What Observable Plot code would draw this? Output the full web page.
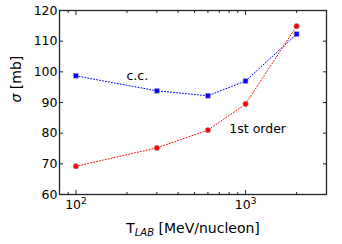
<!DOCTYPE html>
<html><head><meta charset="utf-8">
<script src="https://cdn.jsdelivr.net/npm/d3@7"></script>
<script src="https://cdn.jsdelivr.net/npm/@observablehq/plot@0.6"></script>
<style>body{margin:0;background:#fff} svg{font-family:"DejaVu Sans"}</style>
</head><body><div id="chart"></div>
<script>
const energies = [100, 300, 600, 1000, 2000];
const ccValues = [98.7, 93.8, 92.2, 97.0, 112.3];
const firstOrderValues = [69.2, 75.2, 81.0, 89.5, 114.9];
const yTicks = [60, 70, 80, 90, 100, 110, 120];
const xMajorTicks = [100, 1000];
const xMinorTicks = [90, 200, 300, 400, 500, 600, 700, 800, 900, 2000, 3000];
const xTickLabels = {100: "10^2", 1000: "10^3"};
const seriesNames = ["c.c.", "1st order"];
const yLabel = "σ [mb]";
const xLabel = "T_LAB [MeV/nucleon]";

const ccData = energies.map((e, i) => ({energy: e, value: ccValues[i]}));
const foData = energies.map((e, i) => ({energy: e, value: firstOrderValues[i]}));

const chart = Plot.plot({
  width: 342, height: 244,
  marginLeft: 59, marginRight: 16, marginTop: 10, marginBottom: 50,
  x: {type: "log", domain: [80, 3000]},
  y: {domain: [60, 120]},
  style: {fontFamily: "DejaVu Sans", fontSize: "12px", color: "black", background: "white"},
  marks: [
    Plot.axisY(yTicks, {anchor: "left", tickSize: -4, fill: "none", stroke: "#222", label: null}),
    Plot.axisY(yTicks, {anchor: "right", tickSize: -4, fill: "none", stroke: "#222", label: null}),
    Plot.axisY(yTicks, {anchor: "left", tickSize: 0, tickPadding: 2, fontSize: 12.5, fill: "black", label: null}),
    Plot.axisX(xMajorTicks, {anchor: "bottom", tickSize: -4, fill: "none", stroke: "#222", label: null}),
    Plot.axisX(xMajorTicks, {anchor: "top", tickSize: -4, fill: "none", stroke: "#222", label: null}),
    Plot.axisX(xMinorTicks, {anchor: "bottom", tickSize: -2, fill: "none", stroke: "#222", label: null}),
    Plot.axisX(xMinorTicks, {anchor: "top", tickSize: -2, fill: "none", stroke: "#222", label: null}),
    Plot.axisX(xMajorTicks, {anchor: "bottom", tickSize: 0, tickPadding: 6, fontSize: 12.5, fill: "black", tickFormat: d => xTickLabels[d], label: null}),
    Plot.line(ccData, {x: "energy", y: "value", stroke: "#0000ff", strokeWidth: 1, strokeDasharray: "1,2"}),
    Plot.line(foData, {x: "energy", y: "value", stroke: "#ff0000", strokeWidth: 1, strokeDasharray: "1,2"}),
    Plot.dot(ccData, {x: "energy", y: "value", symbol: "square", r: 2.7, fill: "#0000ff", stroke: "#999", strokeWidth: 0.6}),
    Plot.dot(foData, {x: "energy", y: "value", symbol: "circle", r: 2.7, fill: "#ff0000", stroke: "#999", strokeWidth: 0.6}),
    Plot.text([seriesNames[0]], {x: 230, y: 98.8, text: d => d, fontSize: 12.5, fill: "black"}),
    Plot.text([seriesNames[1]], {x: 1178, y: 81.5, text: d => d, fontSize: 12.5, fill: "black"}),
    Plot.text([yLabel], {frameAnchor: "left", dx: -43, rotate: -90, text: d => d, fontSize: 14, fill: "black"}),
    Plot.text([xLabel], {frameAnchor: "bottom", dy: 38, text: d => d, fontSize: 14, fill: "black"}),
    Plot.frame({stroke: "#222", strokeWidth: 1.3})
  ]
});
document.getElementById("chart").appendChild(chart);

// rich text: subscript, superscript and italics
d3.select(chart).selectAll("text").each(function() {
  const t = d3.select(this);
  const s = this.textContent;
  if (s === xLabel) {
    t.text(null);
    t.append("tspan").text("T");
    t.append("tspan").attr("font-style", "italic").attr("font-size", "10px").attr("dy", 3).text("LAB");
    t.append("tspan").attr("dy", -3).text(" [MeV/nucleon]");
  } else if (s === yLabel) {
    t.text(null);
    t.append("tspan").attr("font-style", "italic").text("σ");
    t.append("tspan").text(" [mb]");
  } else if (/^10\^\d$/.test(s)) {
    const [base, exp] = s.split("^");
    t.text(null);
    t.append("tspan").text(base);
    t.append("tspan").attr("font-size", "9px").attr("dy", -5).text(exp);
  }
});
</script>
</body></html>
